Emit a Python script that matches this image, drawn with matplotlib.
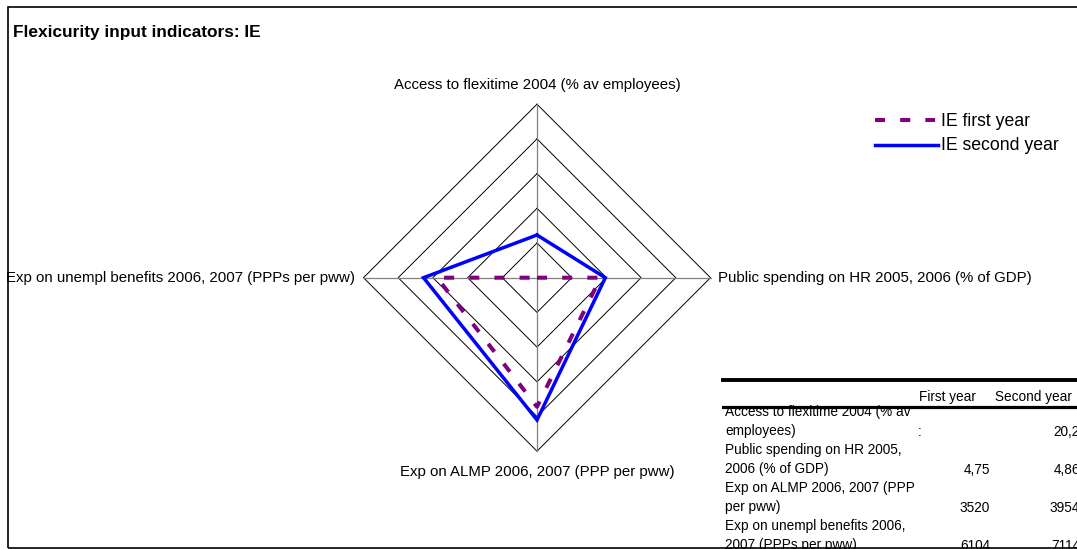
import numpy as np
import matplotlib.pyplot as plt
from matplotlib.lines import Line2D
from matplotlib.patches import Rectangle

plt.rcParams['font.family'] = ['Liberation Sans', 'DejaVu Sans']

W, H = 1077, 549

# radar axes (clockwise from top)
categories = ['Access to flexitime 2004 (% av employees)',
              'Public spending on HR 2005, 2006 (% of GDP)',
              'Exp on ALMP 2006, 2007 (PPP per pww)',
              'Exp on unempl benefits 2006, 2007 (PPPs per pww)']
first_year = [0.0, 1.83, 3.72, 2.88]
second_year = [1.23, 1.97, 4.10, 3.27]
n_rings = 5

# data table
table_rows = [['Access to flexitime 2004 (% av', 'employees)'],
              ['Public spending on HR 2005,', '2006 (% of GDP)'],
              ['Exp on ALMP 2006, 2007 (PPP', 'per pww)'],
              ['Exp on unempl benefits 2006,', '2007 (PPPs per pww)']]
table_first = [':', '4,75', '3520', '6104']
table_second = ['20,2', '4,86', '3954', '7114']


def px(x, y):
    return x / W, 1 - y / H


fig = plt.figure(figsize=(W / 100, H / 100), dpi=100)

# chart border
fig.add_artist(Rectangle(px(8, 548), (1100 - 8) / W, (548 - 7) / H,
                         transform=fig.transFigure, fill=False,
                         edgecolor='black', lw=1.2))

fig.text(*px(13, 33), 'Flexicurity input indicators: IE', fontsize=12.4,
         fontweight='bold', ha='left', va='center')

# radar drawn on plain axes
cx, cy, half = 537, 277.7, 180
unit = 34.7
ax = fig.add_axes([(cx - half) / W, (H - cy - half) / H, 2 * half / W, 2 * half / H])
lim = half / unit
ax.set_xlim(-lim, lim)
ax.set_ylim(-lim, lim)
ax.axis('off')

angles = np.pi / 2 - np.arange(len(categories)) * np.pi / 2
ca, sa = np.round(np.cos(angles), 6), np.round(np.sin(angles), 6)

for r in range(1, n_rings + 1):
    ax.plot(np.append(r * ca, r * ca[0]), np.append(r * sa, r * sa[0]),
            color='black', lw=0.7, zorder=1)
for c, s in zip(ca, sa):
    ax.plot([0, n_rings * c], [0, n_rings * s], color='#808080', lw=0.9, zorder=1)

v2 = np.array(second_year)
ax.plot(np.append(v2 * ca, v2[0] * ca[0]), np.append(v2 * sa, v2[0] * sa[0]),
        color='#0000FF', lw=2.5, zorder=3, solid_joinstyle='miter')
v1 = np.array(first_year)
ax.plot(np.append(v1 * ca, v1[0] * ca[0]), np.append(v1 * sa, v1[0] * sa[0]),
        color='#800080', lw=2.9, dashes=(2.5, 3.75), zorder=4)

lab_fs = 10.8
ax.text(0, 5.55, categories[0], ha='center', va='center', fontsize=lab_fs, clip_on=False)
ax.text(5.22, 0, categories[1], ha='left', va='center', fontsize=lab_fs, clip_on=False)
ax.text(0, -5.6, categories[2], ha='center', va='center', fontsize=lab_fs, clip_on=False)
ax.text(-5.24, 0, categories[3], ha='right', va='center', fontsize=lab_fs, clip_on=False)

# legend
fig.add_artist(Line2D([875 / W, 935 / W], [1 - 120 / H] * 2, color='#800080',
                      lw=2.9, dashes=(2.5, 3.75)))
fig.add_artist(Line2D([875 / W, 938 / W], [1 - 145 / H] * 2, color='#0000FF', lw=2.5))
fig.text(*px(941, 121), 'IE first year', fontsize=12.7, ha='left', va='center')
fig.text(*px(941, 146), 'IE second year', fontsize=12.7, ha='left', va='center')

# table
tfs = 9.8
fig.add_artist(Line2D([723 / W, 1 + 0.01], [1 - 380 / H] * 2, color='black', lw=2.8))
fig.add_artist(Line2D([723 / W, 1 + 0.01], [1 - 406.5 / H] * 2, color='black', lw=2.3, zorder=5))
fig.text(*px(947, 397), 'First year', fontsize=tfs, ha='center', va='center')
fig.text(*px(1033, 397), 'Second year', fontsize=tfs, ha='center', va='center')
y0, step = 412, 19
for i, row in enumerate(table_rows):
    for j, line in enumerate(row):
        fig.text(*px(725, y0 + (2 * i + j) * step), line, fontsize=tfs,
                 ha='left', va='center')
    yv = y0 + (2 * i + 1) * step + 1.5
    if table_first[i] == ':':
        fig.text(*px(918, yv), table_first[i], fontsize=tfs, ha='left', va='center')
    else:
        fig.text(*px(990, yv), table_first[i], fontsize=tfs, ha='right', va='center')
    fig.text(*px(1080, yv), table_second[i], fontsize=tfs, ha='right', va='center')

fig.savefig('out.png', dpi=100)
